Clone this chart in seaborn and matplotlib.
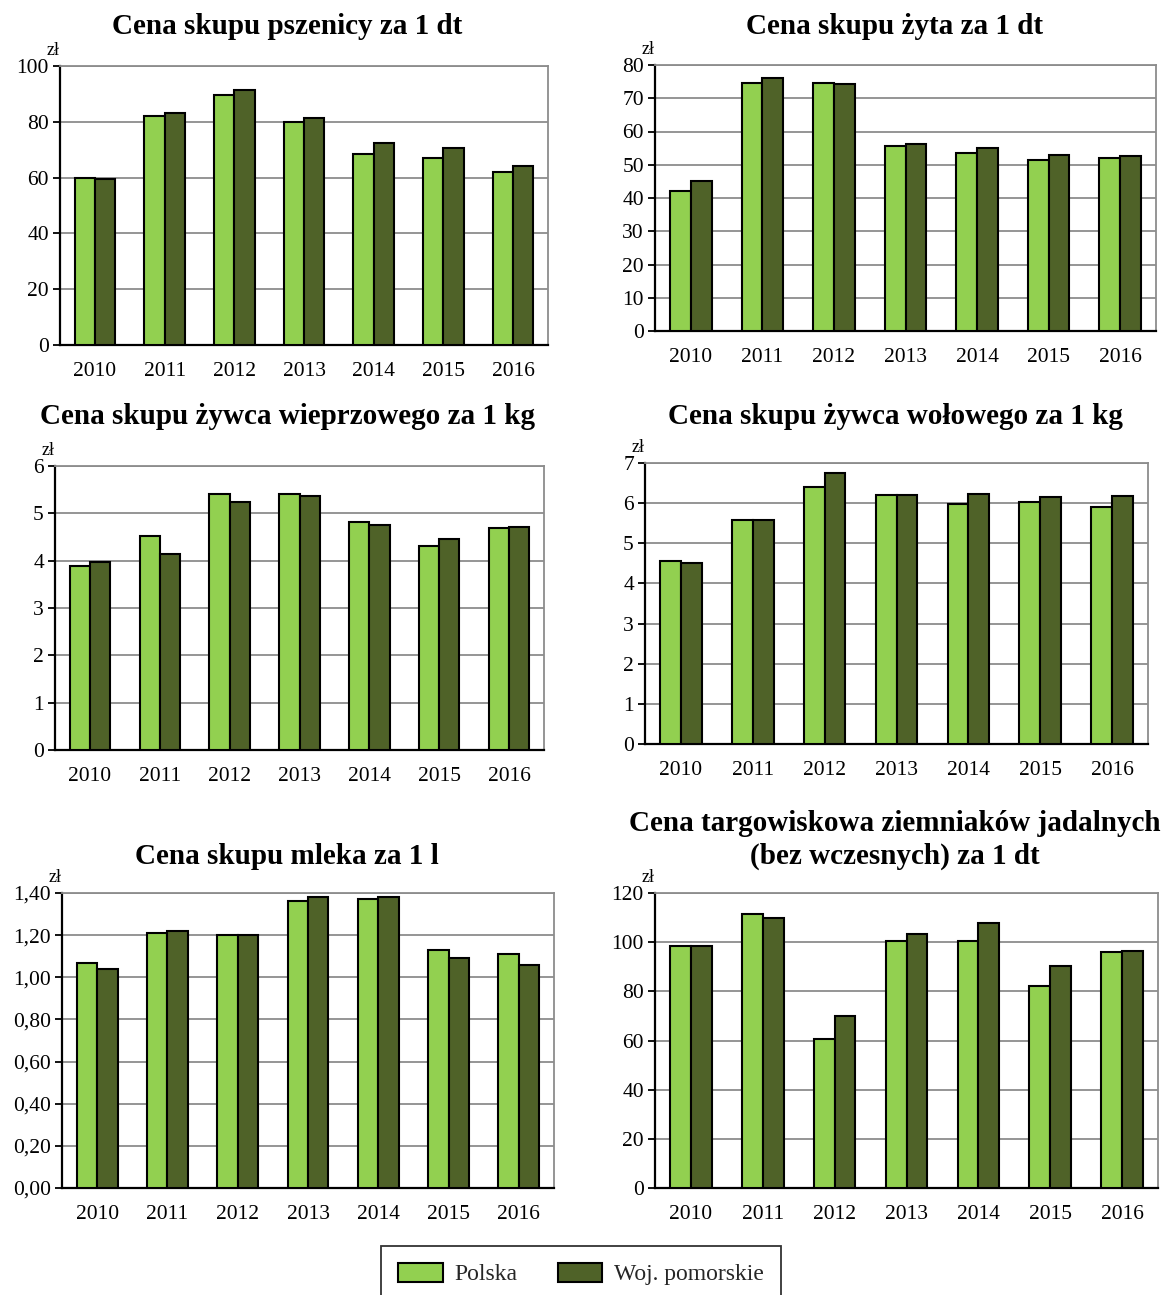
import matplotlib
matplotlib.use("Agg")
import matplotlib.pyplot as plt
import matplotlib.ticker as mticker
from matplotlib.patches import Patch
import seaborn as sns
import pandas as pd

sns.set_theme(style="white")
plt.rcParams['font.family'] = ['Liberation Serif', 'DejaVu Serif']

years = ["2010", "2011", "2012", "2013", "2014", "2015", "2016"]
series_names = ["Polska", "Woj. pomorskie"]

pszenica_pl = [60.0, 82.0, 89.5, 80.0, 68.5, 67.0, 62.0]
pszenica_pom = [59.5, 83.0, 91.5, 81.5, 72.5, 70.5, 64.0]

zyto_pl = [42.0, 74.5, 74.5, 55.5, 53.5, 51.5, 52.0]
zyto_pom = [45.0, 76.0, 74.3, 56.2, 55.0, 53.0, 52.5]

wieprz_pl = [3.89, 4.53, 5.41, 5.40, 4.82, 4.31, 4.68]
wieprz_pom = [3.97, 4.14, 5.23, 5.37, 4.76, 4.45, 4.71]

wolowy_pl = [4.57, 5.59, 6.41, 6.21, 5.97, 6.03, 5.91]
wolowy_pom = [4.51, 5.57, 6.75, 6.20, 6.22, 6.15, 6.17]

mleko_pl = [1.07, 1.21, 1.20, 1.36, 1.37, 1.13, 1.11]
mleko_pom = [1.04, 1.22, 1.20, 1.38, 1.38, 1.09, 1.06]

ziemniaki_pl = [98.5, 111.5, 60.5, 100.3, 100.3, 82.0, 96.0]
ziemniaki_pom = [98.3, 110.0, 70.0, 103.5, 108.0, 90.5, 96.3]

titles = [
    "Cena skupu pszenicy za 1 dt",
    "Cena skupu żyta za 1 dt",
    "Cena skupu żywca wieprzowego za 1 kg",
    "Cena skupu żywca wołowego za 1 kg",
    "Cena skupu mleka za 1 l",
    "Cena targowiskowa ziemniaków jadalnych\n(bez wczesnych) za 1 dt",
]

colors = ["#92D050", "#4F6228"]

W, H = 1166, 1295
fig = plt.figure(figsize=(W / 100, H / 100), dpi=100)

# pixel boxes: left, right, top, bottom ; ymax, step ; title x, title y
panels = [
    (60, 548, 66, 345, 100, 20, 287, 27, pszenica_pl, pszenica_pom, False),
    (655, 1156, 65, 331, 80, 10, 895, 27, zyto_pl, zyto_pom, False),
    (55, 544, 466, 750, 6, 1, 287, 416, wieprz_pl, wieprz_pom, False),
    (645, 1148, 463, 744, 7, 1, 895, 416, wolowy_pl, wolowy_pom, False),
    (62, 554, 893, 1188, 1.4, 0.2, 287, 856, mleko_pl, mleko_pom, True),
    (655, 1158, 893, 1188, 120, 20, 895, 840, ziemniaki_pl, ziemniaki_pom, False),
]

for i, (l, r, t, b, ymax, step, tx, ty, v1, v2, comma) in enumerate(panels):
    ax = fig.add_axes([l / W, 1 - b / H, (r - l) / W, (b - t) / H])
    df = pd.DataFrame({
        "rok": years * 2,
        "seria": [series_names[0]] * 7 + [series_names[1]] * 7,
        "cena": list(v1) + list(v2),
    })
    sns.barplot(data=df, x="rok", y="cena", hue="seria", palette=colors,
                saturation=1, width=0.58, edgecolor="black", linewidth=1.5,
                ax=ax, legend=False, zorder=3)
    ax.set_ylim(0, ymax)
    ax.set_xlim(-0.5, 6.5)
    ax.yaxis.set_major_locator(mticker.MultipleLocator(step))
    if comma:
        ax.yaxis.set_major_formatter(mticker.FuncFormatter(lambda v, p: f"{v:.2f}".replace(".", ",")))
    else:
        ax.yaxis.set_major_formatter(mticker.FuncFormatter(lambda v, p: f"{v:.0f}"))
    ax.grid(axis="y", color="#8c8c8c", linewidth=1.3, zorder=0)
    ax.set_axisbelow(True)
    ax.set_xlabel("")
    ax.set_ylabel("")
    for s in ["top", "right"]:
        ax.spines[s].set_color("#8c8c8c")
        ax.spines[s].set_linewidth(1.3)
    for s in ["left", "bottom"]:
        ax.spines[s].set_color("black")
        ax.spines[s].set_linewidth(1.6)
    ax.tick_params(axis="y", which="major", left=True, length=5, width=1.3,
                   color="black", labelsize=15.5, pad=3)
    ax.tick_params(axis="x", bottom=False, labelsize=15.5, pad=6)
    for lab in ax.get_xticklabels() + ax.get_yticklabels():
        lab.set_color("black")
    ax.text(0.0, 1.025, "zł", transform=ax.transAxes, ha="right", va="bottom",
            fontsize=13, color="black")
    fig.text(tx / W, 1 - ty / H, titles[i], ha="center", va="center",
             fontsize=21, fontweight="bold", color="black", linespacing=1.25,
             family=["Liberation Serif", "DejaVu Serif"])

handles = [Patch(facecolor=colors[0], edgecolor="black", linewidth=1.5, label=series_names[0]),
           Patch(facecolor=colors[1], edgecolor="black", linewidth=1.5, label=series_names[1])]
leg = fig.legend(handles=handles, loc="upper center", bbox_to_anchor=(581 / W, 1 - 1246 / H),
                 ncol=2, frameon=True, fancybox=False, fontsize=17, handlelength=1.9,
                 handleheight=0.9, columnspacing=1.7, borderpad=0.7, handletextpad=0.5,
                 borderaxespad=0)
leg.get_frame().set_edgecolor("black")
leg.get_frame().set_linewidth(1.3)

fig.savefig("out.png", dpi=100)
